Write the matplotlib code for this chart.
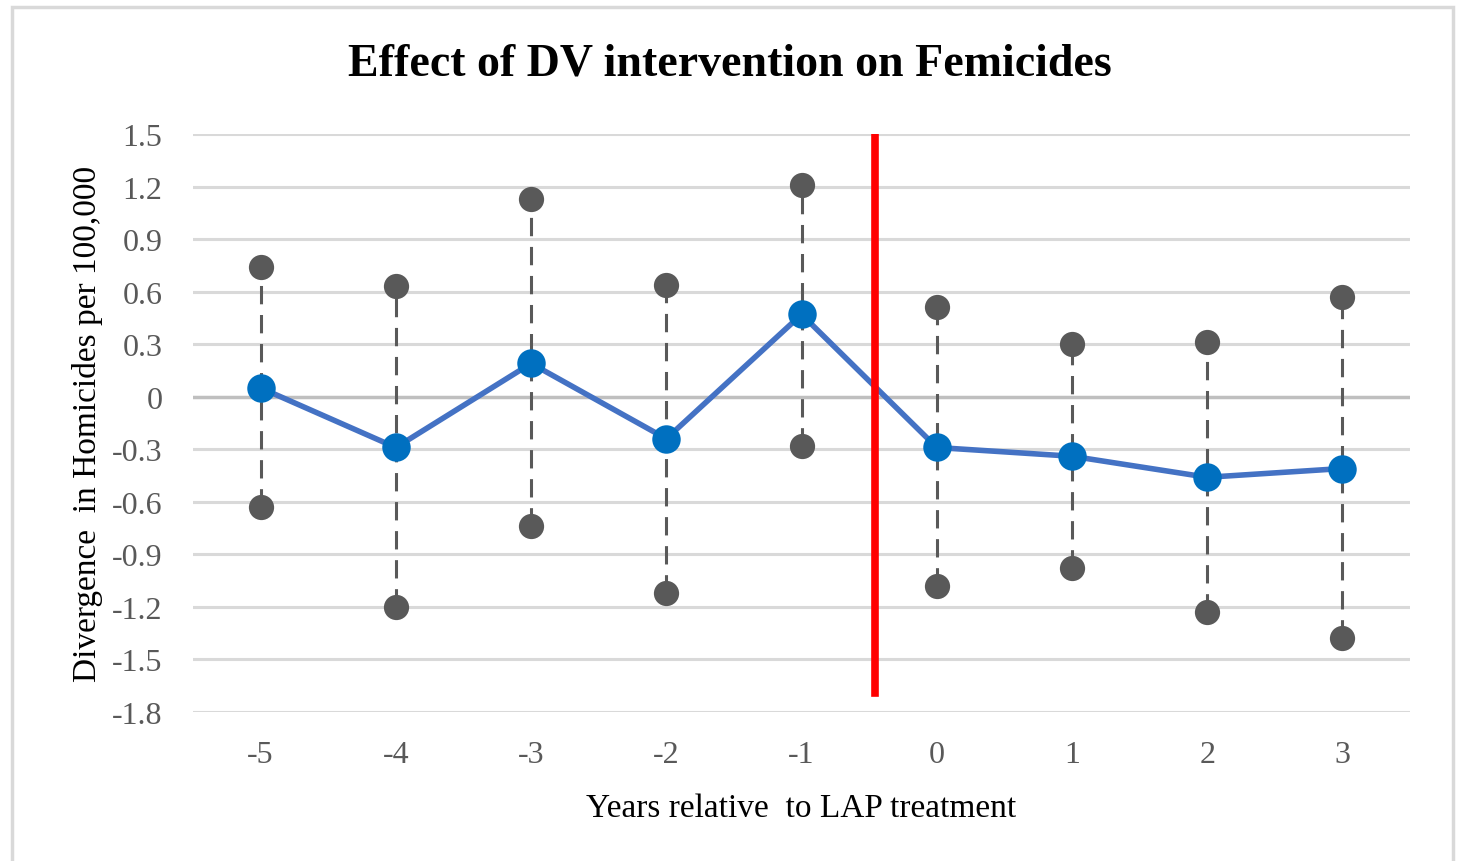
import matplotlib.pyplot as plt
from matplotlib.patches import Rectangle

years = [-5, -4, -3, -2, -1, 0, 1, 2, 3]
estimate = [0.05, -0.29, 0.19, -0.24, 0.47, -0.29, -0.34, -0.46, -0.41]
upper = [0.74, 0.63, 1.13, 0.64, 1.21, 0.51, 0.30, 0.31, 0.57]
lower = [-0.63, -1.20, -0.74, -1.12, -0.28, -1.08, -0.98, -1.23, -1.38]
yticks = [1.5, 1.2, 0.9, 0.6, 0.3, 0, -0.3, -0.6, -0.9, -1.2, -1.5, -1.8]
treat_pos = 4.54

plt.rcParams['font.family'] = ['Liberation Serif', 'DejaVu Serif']

fig = plt.figure(figsize=(14.6, 8.62), dpi=100)
ax = fig.add_axes([0.1322, 0.1729, 0.8336, 0.6705])

# chart frame
fig.patches.append(Rectangle((12 / 1460, -0.01), 1441 / 1460, 1 - 8 / 862 + 0.01,
                             transform=fig.transFigure, fill=False,
                             edgecolor='#D9D9D9', linewidth=2.5))

x = list(range(len(years)))

for yt in yticks:
    if yt == 0:
        continue
    ax.axhline(yt, color='#D9D9D9', linewidth=2.2, zorder=0)
ax.axhline(0, color='#BFBFBF', linewidth=2.5, zorder=0)

# confidence intervals
for i in x:
    ax.plot([i, i], [lower[i], upper[i]], color='#595959', linewidth=2.2,
            linestyle=(0, (6, 3.5)), zorder=2)
ax.scatter(x, upper, s=330, color='#595959', zorder=3, linewidths=0)
ax.scatter(x, lower, s=330, color='#595959', zorder=3, linewidths=0)

ax.plot(x, estimate, color='#4472C4', linewidth=4, zorder=4)
ax.scatter(x, estimate, s=420, color='#0070C0', zorder=5, linewidths=0)

ax.plot([treat_pos, treat_pos], [1.5, -1.69], color='#FF0000', linewidth=5.5, zorder=6)

ax.set_xlim(-0.5, len(years) - 0.5)
ax.set_ylim(-1.8, 1.5)
ax.set_xticks(x)
ax.set_xticklabels([str(v) for v in years])
ax.set_yticks(yticks)
ax.set_yticklabels([('%g' % v) if v != 0 else '0' for v in yticks])
ax.tick_params(axis='both', length=0, labelsize=23, labelcolor='#595959')
ax.tick_params(axis='y', pad=22)
ax.tick_params(axis='x', pad=20)
for s in ax.spines.values():
    s.set_visible(False)

ax.set_xlabel('Years relative  to LAP treatment', fontsize=24, labelpad=17)
ax.set_ylabel('Divergence  in Homicides per 100,000', fontsize=24, labelpad=6)
fig.text(0.5, 0.925, 'Effect of DV intervention on Femicides', ha='center', va='center',
         fontsize=33, fontweight='bold')

fig.savefig('out.png', dpi=100)
